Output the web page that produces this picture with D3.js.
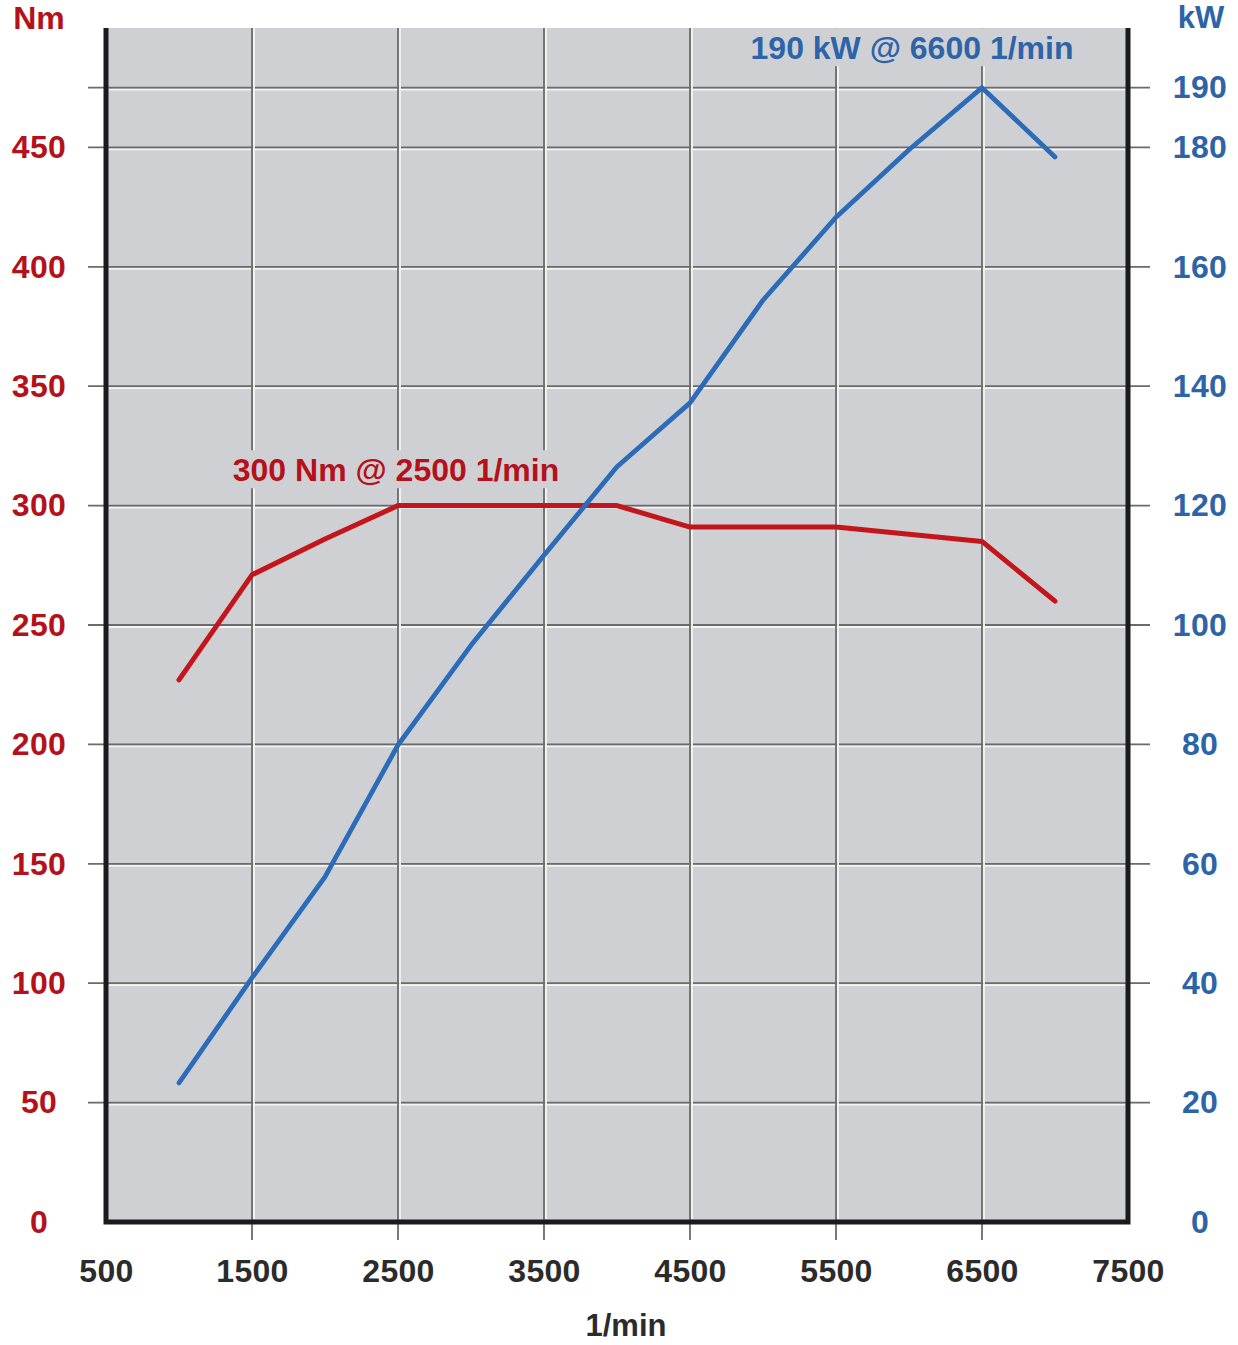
<!DOCTYPE html>
<html>
<head>
<meta charset="utf-8">
<script src="https://cdn.jsdelivr.net/npm/d3@7"></script>
<style>
  body { margin: 0; background: #fff; }
  text { font-family: "Liberation Sans", Arial, sans-serif; font-weight: bold; }
</style>
</head>
<body>
<div id="chart-area"></div>
<script>
// engine curve - torque (Nm) and power (kW) over rpm
var rpm    = [1000, 1500, 2000, 2500, 3000, 3500, 4000, 4500, 5000, 5500, 6000, 6500, 7000];
var torque = [227, 271, 286, 300, 300, 300, 300, 291, 291, 291, 288, 285, 260];
var power  = [23.3, 40.9, 57.8, 79.9, 96.6, 111.7, 126.5, 137.2, 154.4, 168.3, 179.6, 190, 178.4];

var rpmTicks = [500, 1500, 2500, 3500, 4500, 5500, 6500, 7500];
var nmTicks  = [0, 50, 100, 150, 200, 250, 300, 350, 400, 450];
var kwTicks  = [0, 20, 40, 60, 80, 100, 120, 140, 160, 180, 190];

var torqueLabel = "300 Nm @ 2500 1/min";
var powerLabel  = "190 kW @ 6600 1/min";

var W = 1238, H = 1345;
var red = "#c3161c", redText = "#b5111b";
var blue = "#2c6bb8", blueText = "#2d64a8";
var bg = "#cfd0d4";

var svg = d3.select("#chart-area")
    .append("svg")
        .attr("width", W)
        .attr("height", H);

var x = d3.scaleLinear()
    .domain([500, 7500])
    .range([106, 1128]);

var yNm = d3.scaleLinear()
    .domain([0, 500])
    .range([1222, 28]);

var yKw = d3.scaleLinear()
    .domain([0, 200])
    .range([1222, 28]);

var x0 = x(500), x1 = x(7500), yTop = yNm(500), yBot = yNm(0);

// plot background
svg.append("rect")
    .attr("x", x0).attr("y", yTop)
    .attr("width", x1 - x0).attr("height", yBot - yTop)
    .attr("fill", bg);

// grid: dark line with a white highlight next to it
var grid = svg.append("g");
var hLines = nmTicks.filter(function(d){ return d > 0; }).map(function(d){ return yNm(d); })
    .concat([yKw(190)]);

grid.selectAll(".hl").data(hLines).enter().append("line")
    .attr("x1", x0 + 3).attr("x2", x1 - 3)
    .attr("y1", function(d){ return d + 2; }).attr("y2", function(d){ return d + 2; })
    .attr("stroke", "#f4f4f4").attr("stroke-width", 1.8);
grid.selectAll(".h").data(hLines).enter().append("line")
    .attr("x1", x0 - 18).attr("x2", x1 + 22)
    .attr("y1", function(d){ return d; }).attr("y2", function(d){ return d; })
    .attr("stroke", "#6b6b6b").attr("stroke-width", 1.8);

var vTicks = rpmTicks.slice(1, -1);
grid.selectAll(".vl").data(vTicks).enter().append("line")
    .attr("x1", function(d){ return x(d) + 2; }).attr("x2", function(d){ return x(d) + 2; })
    .attr("y1", yTop).attr("y2", yBot - 3)
    .attr("stroke", "#f4f4f4").attr("stroke-width", 1.8);
grid.selectAll(".v").data(vTicks).enter().append("line")
    .attr("x1", function(d){ return x(d); }).attr("x2", function(d){ return x(d); })
    .attr("y1", yTop).attr("y2", yBot + 18)
    .attr("stroke", "#6b6b6b").attr("stroke-width", 1.8);

// frame (left, bottom, right)
svg.append("path")
    .attr("d", "M" + x0 + "," + yTop + "V" + yBot + "H" + x1 + "V" + yTop)
    .attr("fill", "none")
    .attr("stroke", "#1b1b1b")
    .attr("stroke-width", 5);

// value labels with a background patch that hides the grid behind them
function peakLabel(txt, cx, cy, color){
    var gL = svg.append("g");
    var r = gL.append("rect").attr("fill", bg);
    var t = gL.append("text")
        .attr("x", cx).attr("y", cy)
        .attr("dy", "0.35em")
        .attr("text-anchor", "middle")
        .attr("font-size", "32px")
        .attr("fill", color)
        .text(txt);
    var b = t.node().getBBox();
    r.attr("x", b.x - 5).attr("y", b.y - 2).attr("width", b.width + 10).attr("height", b.height + 2);
}
peakLabel(torqueLabel, 396, 470, redText);
peakLabel(powerLabel, 912, 48, blueText);

// curves
var lineNm = d3.line()
    .x(function(d, i){ return x(rpm[i]); })
    .y(function(d){ return yNm(d); });
var lineKw = d3.line()
    .x(function(d, i){ return x(rpm[i]); })
    .y(function(d){ return yKw(d); });

svg.append("path")
    .attr("d", lineNm(torque))
    .attr("fill", "none").attr("stroke", red)
    .attr("stroke-width", 5).attr("stroke-linejoin", "round").attr("stroke-linecap", "round");

svg.append("path")
    .attr("d", lineKw(power))
    .attr("fill", "none").attr("stroke", blue)
    .attr("stroke-width", 4.8).attr("stroke-linejoin", "round").attr("stroke-linecap", "round");

// axes (labels only, ticks drawn as grid above)
var xAxisCall = d3.axisBottom(x).tickValues(rpmTicks).tickFormat(d3.format("d")).tickSize(0).tickPadding(0);
var xAxis = svg.append("g")
    .attr("transform", "translate(0,1282)")
    .call(xAxisCall);

var yAxisCall = d3.axisLeft(yNm).tickValues(nmTicks).tickSize(0);
var yAxis = svg.append("g")
    .attr("transform", "translate(39,0)")
    .call(yAxisCall);

var kwAxisCall = d3.axisRight(yKw).tickValues(kwTicks).tickSize(0);
var kwAxis = svg.append("g")
    .attr("transform", "translate(1200,0)")
    .call(kwAxisCall);

[xAxis, yAxis, kwAxis].forEach(function(a){
    a.select(".domain").remove();
    a.selectAll("text")
        .attr("font-family", "Liberation Sans, Arial, sans-serif")
        .attr("font-size", "32px")
        .attr("letter-spacing", "0.3px")
        .attr("text-anchor", "middle")
        .attr("x", 0);
});
xAxis.selectAll("text").attr("dy", 0).attr("y", 0).attr("fill", "#2b2b2b");
yAxis.selectAll("text").attr("fill", redText);
kwAxis.selectAll("text").attr("fill", blueText);

// axis titles
svg.append("text")
    .attr("x", 39).attr("y", 29)
    .attr("text-anchor", "middle")
    .attr("font-size", "32px")
    .attr("fill", redText)
    .text("Nm");

svg.append("text")
    .attr("x", 1201).attr("y", 28)
    .attr("text-anchor", "middle")
    .attr("font-size", "31px")
    .attr("fill", blueText)
    .text("kW");

svg.append("text")
    .attr("x", 626).attr("y", 1336)
    .attr("text-anchor", "middle")
    .attr("font-size", "31px")
    .attr("fill", "#2b2b2b")
    .text("1/min");
</script>
</body>
</html>
